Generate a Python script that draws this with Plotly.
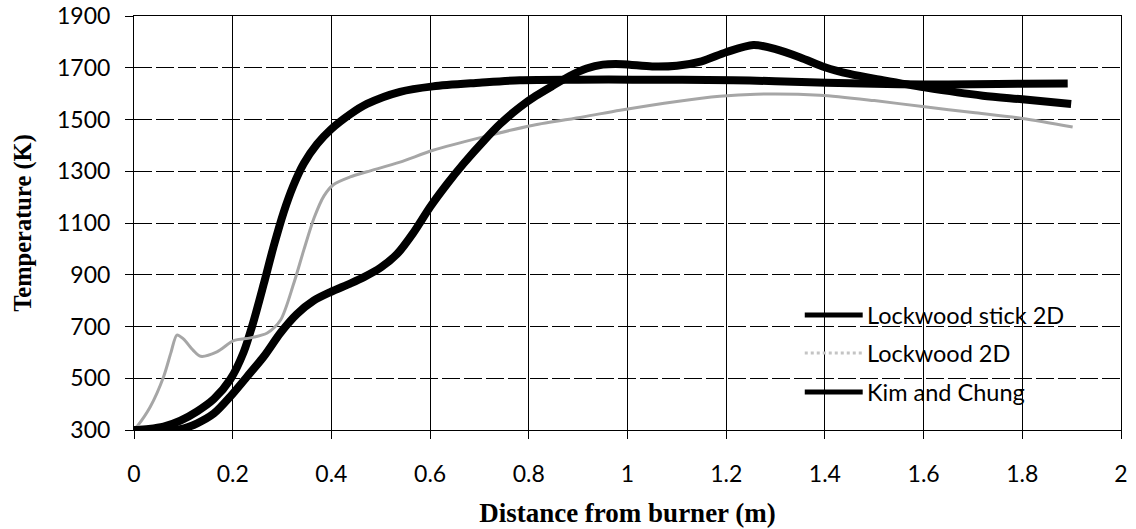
import plotly.graph_objects as go

# Axial temperature profiles along the furnace
stick_x = [0.0, 0.03, 0.06, 0.094, 0.128, 0.162, 0.195, 0.222, 0.243, 0.263, 0.283,
           0.303, 0.323, 0.344, 0.371, 0.398, 0.438, 0.472, 0.539, 0.606, 0.7, 0.782,
           0.9, 1.01, 1.214, 1.3, 1.403, 1.5, 1.602, 1.7, 1.80, 1.892]
stick_t = [300, 304, 313, 336, 372, 420, 495, 600, 725, 865, 1010,
           1140, 1245, 1330, 1405, 1460, 1520, 1560, 1607, 1628, 1642, 1652,
           1654, 1654, 1652, 1648, 1642, 1638, 1635, 1636, 1638, 1639]

lw2d_x = [0.0, 0.006, 0.033, 0.06, 0.075, 0.087, 0.1, 0.12, 0.135, 0.168, 0.202,
          0.236, 0.27, 0.297, 0.323, 0.344, 0.365, 0.385, 0.404, 0.438, 0.472, 0.539,
          0.606, 0.708, 0.809, 0.91, 0.985, 1.1, 1.187, 1.26, 1.39, 1.5, 1.602, 1.7,
          1.80, 1.902]
lw2d_t = [300, 313, 390, 506, 600, 667, 652, 608, 585, 602, 645,
          656, 675, 725, 862, 995, 1120, 1205, 1248, 1278, 1298, 1335,
          1381, 1433, 1478, 1510, 1536, 1570, 1590, 1598, 1594, 1573, 1549, 1527,
          1504, 1471]

kim_x = [0.0, 0.06, 0.094, 0.128, 0.162, 0.195, 0.229, 0.263, 0.297, 0.33, 0.364,
         0.398, 0.438, 0.465, 0.5, 0.533, 0.566, 0.6, 0.634, 0.668, 0.71, 0.742,
         0.782, 0.815, 0.85, 0.883, 0.917, 0.95, 0.99, 1.05, 1.1, 1.15, 1.2, 1.255,
         1.3, 1.35, 1.4, 1.45, 1.517, 1.602, 1.72, 1.80, 1.899]
kim_t = [300, 300, 303, 326, 364, 429, 506, 584, 676, 748, 800,
         833, 866, 890, 928, 980, 1062, 1162, 1250, 1330, 1420, 1483,
         1548, 1592, 1632, 1668, 1697, 1712, 1714, 1705, 1708, 1725, 1760, 1788,
         1772, 1740, 1702, 1676, 1652, 1624, 1592, 1578, 1560]

x_ticks = [0, 0.2, 0.4, 0.6, 0.8, 1, 1.2, 1.4, 1.6, 1.8, 2]
y_ticks = [300, 500, 700, 900, 1100, 1300, 1500, 1700, 1900]

series_names = ["Lockwood stick 2D", "Lockwood 2D", "Kim and Chung"]
series_colors = ["black", "#a6a6a6", "black"]

tick_font = dict(family="Lato", size=23, color="black")

fig = go.Figure()
for xs, ts, name, color in zip([stick_x, lw2d_x, kim_x], [stick_t, lw2d_t, kim_t],
                               series_names, series_colors):
    thick = color == "black"
    fig.add_trace(go.Scatter(
        x=xs, y=ts, name=name, mode="lines", showlegend=False,
        line=dict(color=color, width=8 if thick else 3, shape="spline",
                  smoothing=0.8)))

# Key placed inside the plot, lower right, on a white panel over the grid
key_left, key_right = 0.6796, 0.7383
key_rows = [0.2776, 0.1859, 0.0917]
fig.add_shape(type="rect", xref="paper", yref="paper",
              x0=0.6422, x1=0.9762, y0=0.0434, y1=0.3307,
              fillcolor="white", line_width=0, layer="between")
for name, color, yy in zip(series_names, series_colors, key_rows):
    thick = color == "black"
    fig.add_shape(type="line", xref="paper", yref="paper",
                  x0=key_left, x1=key_right, y0=yy, y1=yy,
                  line=dict(color=color if thick else "#c4c4c4",
                            width=5 if thick else 3,
                            dash="solid" if thick else "dot"))
    fig.add_annotation(xref="paper", yref="paper", x=key_right + 0.002, y=yy,
                       xanchor="left", yanchor="middle", showarrow=False,
                       text=name, font=dict(family="Lato", size=23.5, color="black"))

fig.update_layout(
    width=1136, height=529,
    margin=dict(l=133.5, r=14.5, t=15.7, b=99, autoexpand=False),
    paper_bgcolor="white", plot_bgcolor="white",
    showlegend=False,
)

fig.update_xaxes(
    range=[0, 2], tickvals=x_ticks, ticktext=[f"{v:g}" for v in x_ticks],
    showgrid=True, gridcolor="black", gridwidth=1,
    showline=True, linecolor="black", linewidth=1, mirror=True,
    ticks="outside", ticklen=8, tickcolor="black", ticklabelstandoff=15,
    tickfont=tick_font, zeroline=False, automargin=False,
    title=dict(text="<b>Distance from burner (m)</b>",
               font=dict(family="Liberation Serif", size=27, color="black"),
               standoff=17),
)
fig.update_yaxes(
    range=[300, 1900], tickvals=y_ticks,
    showgrid=True, gridcolor="black", gridwidth=1, griddash="18px,4px",
    showline=True, linecolor="black", linewidth=1, mirror=True,
    ticks="outside", ticklen=8, tickcolor="black", ticklabelstandoff=10,
    tickfont=tick_font, zeroline=False, automargin=False,
    title=dict(text="<b>Temperature (K)</b>",
               font=dict(family="Liberation Serif", size=24.5, color="black"),
               standoff=18),
)

fig.write_html("out.html")
